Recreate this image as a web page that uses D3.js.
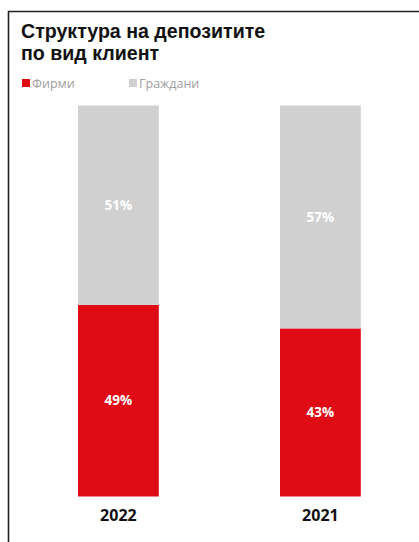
<!DOCTYPE html>
<html>
<head>
<meta charset="utf-8">
<script src="https://cdn.jsdelivr.net/npm/d3@7"></script>
<style>
  body { margin: 0; background: #fff; }
  text { font-family: "Open Sans", "Noto Sans", sans-serif; }
</style>
</head>
<body>
<div id="chart"></div>
<script>
// chart data
var years = ['2022', '2021'];
var firms = [49, 43];
var citizens = [51, 57];
var seriesNames = ['Фирми', 'Граждани'];
var seriesColors = ['#e00c15', '#d0d0d0'];
var titleLines = ['Структура на депозитите', 'по вид клиент'];

var width = 419, height = 542;
var svg = d3.select('#chart').append('svg')
  .attr('width', width)
  .attr('height', height);

// frame: top and left border only
svg.append('path')
  .attr('d', 'M8.5,' + height + 'V11.5H' + width)
  .attr('fill', 'none')
  .attr('stroke', '#222')
  .attr('stroke-width', 1.6);

// title, one text per line
svg.selectAll('.title')
  .data(titleLines)
  .enter()
  .append('text')
  .attr('class', 'title')
  .attr('x', 21)
  .attr('y', function (d, i) { return 38 + i * 22; })
  .style('font-family', '"Liberation Sans", Arial, sans-serif')
  .style('font-size', '19.6px')
  .style('font-weight', 'bold')
  .attr('fill', '#111')
  .text(function (d) { return d; });

// legend
var legend = svg.selectAll('.legend')
  .data(seriesNames)
  .enter()
  .append('g')
  .attr('class', 'legend')
  .attr('transform', function (d, i) { return 'translate(' + (22 + i * 107) + ',79)'; });
legend.append('rect')
  .attr('width', 8)
  .attr('height', 8)
  .attr('fill', function (d, i) { return seriesColors[i]; });
legend.append('text')
  .attr('x', 10)
  .attr('y', 8.5)
  .style('font-size', '12.5px')
  .attr('fill', '#a0a0a0')
  .text(function (d) { return d; });

// scales
var x = d3.scaleBand()
  .domain(years)
  .range([17.4, 421.4])
  .paddingInner(0.6)
  .paddingOuter(0.3);
var y = d3.scaleLinear()
  .domain([0, 100])
  .range([496.5, 105.5]);

var data = years.map(function (yr, i) {
  return { year: yr, firms: firms[i], citizens: citizens[i] };
});

var stack = d3.stack().keys(['firms', 'citizens']);
var layers = stack(data);

var groups = svg.selectAll('.layer')
  .data(layers)
  .enter()
  .append('g')
  .attr('class', 'layer')
  .attr('fill', function (d, i) { return seriesColors[i]; });

groups.selectAll('rect')
  .data(function (d) { return d; })
  .enter()
  .append('rect')
  .attr('x', function (d) { return x(d.data.year); })
  .attr('width', x.bandwidth())
  .attr('y', function (d) { return y(d[1]); })
  .attr('height', function (d) { return y(d[0]) - y(d[1]); });

groups.selectAll('.val')
  .data(function (d) { return d; })
  .enter()
  .append('text')
  .attr('class', 'val')
  .attr('x', function (d) { return x(d.data.year) + x.bandwidth() / 2; })
  .attr('y', function (d) { return (y(d[0]) + y(d[1])) / 2; })
  .attr('dy', '0.35em')
  .attr('text-anchor', 'middle')
  .attr('fill', '#fff')
  .style('font-size', '13.5px')
  .style('font-weight', 'bold')
  .text(function (d) { return (d[1] - d[0]) + '%'; });

// x axis labels
var xAxis = svg.append('g')
  .attr('transform', 'translate(0,' + 496.5 + ')')
  .call(d3.axisBottom(x).tickSize(0).tickPadding(13));
xAxis.select('.domain').remove();
xAxis.selectAll('text')
  .attr('fill', '#111')
  .style('font-family', '"Open Sans", sans-serif')
  .style('font-size', '16px')
  .style('font-weight', 'bold');
</script>
</body>
</html>
